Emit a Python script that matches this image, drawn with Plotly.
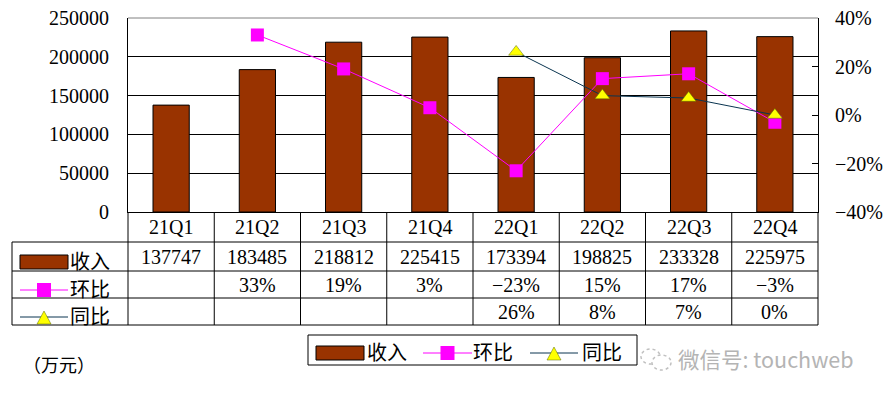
import plotly.graph_objects as go

categories = ["21Q1", "21Q2", "21Q3", "21Q4", "22Q1", "22Q2", "22Q3", "22Q4"]
revenue = [137747, 183485, 218812, 225415, 173394, 198825, 233328, 225975]
qoq = [None, 33, 19, 3, -23, 15, 17, -3]      # 环比 (%)
yoy = [None, None, None, None, 26, 8, 7, 0]   # 同比 (%)
left_ticks = [0, 50000, 100000, 150000, 200000, 250000]
right_ticks = [-40, -20, 0, 20, 40]

W, H = 885, 398
L, R, T, B = 128, 818, 18, 212
SERIF = "Liberation Serif, Noto Sans CJK SC, serif"
CJK = "Noto Sans CJK SC, sans-serif"
BROWN = "#993300"
MAG = "#FF00FF"
NAVY = "#0a3550"
YEL = "#FFFF00"


def px(x):
    return (x - L) / (R - L)


def py(y):
    return (B - y) / (B - T)


fig = go.Figure()
fig.add_trace(go.Bar(x=categories, y=revenue, width=0.42, marker=dict(color=BROWN, line=dict(color="black", width=1)),
                     name="收入", showlegend=False))
fig.add_trace(go.Scatter(x=categories, y=qoq, yaxis="y2", mode="lines+markers", name="环比", showlegend=False,
                         line=dict(color=MAG, width=1),
                         marker=dict(symbol="square", size=13, color=MAG), connectgaps=False))
fig.add_trace(go.Scatter(x=categories, y=yoy, yaxis="y2", mode="lines+markers", name="同比", showlegend=False,
                         line=dict(color=NAVY, width=1),
                         marker=dict(symbol="triangle-up", size=13, color=YEL, line=dict(color="#556600", width=0.5))))

shapes = []
ann = []
# top border grey
shapes.append(dict(type="line", xref="paper", yref="paper", x0=0, x1=1, y0=1, y1=1,
                   line=dict(color="#808080", width=1), layer="above"))

# data table
n = len(categories)
row_y = [242, 271, 298, 325]
for k in range(n + 1):
    xx = px(L + (R - L) * k / n)
    shapes.append(dict(type="line", xref="paper", yref="paper", x0=xx, x1=xx, y0=py(B), y1=py(325),
                       line=dict(color="black", width=1)))
shapes.append(dict(type="line", xref="paper", yref="paper", x0=px(12), x1=px(12), y0=py(242), y1=py(325),
                   line=dict(color="black", width=1)))
for yy in row_y:
    shapes.append(dict(type="line", xref="paper", yref="paper", x0=px(12), x1=1, y0=py(yy), y1=py(yy),
                       line=dict(color="black", width=1)))


def text(x, y, s, font, xref="paper", xanchor="center"):
    ann.append(dict(x=x, xref=xref, y=y, yref="paper", text=s, showarrow=False, xanchor=xanchor,
                    yanchor="middle", font=font))


NUMF = dict(family=SERIF, size=20, color="black")
row_centers = [227, 257, 285, 312]
for i, c in enumerate(categories):
    text(c, py(row_centers[0]), c, NUMF, xref="x")
    text(c, py(row_centers[1]), str(revenue[i]), NUMF, xref="x")
    if qoq[i] is not None:
        text(c, py(row_centers[2]), f"{qoq[i]}%".replace("-", "−"), NUMF, xref="x")
    if yoy[i] is not None:
        text(c, py(row_centers[3]), f"{yoy[i]}%", NUMF, xref="x")


def legend_item(kind, x0, x1, yc, label, tx):
    if kind == "bar":
        shapes.append(dict(type="rect", xref="paper", yref="paper", x0=px(x0), x1=px(x1), y0=py(yc + 7),
                           y1=py(yc - 7), fillcolor=BROWN, line=dict(color="black", width=1)))
    else:
        color = MAG if kind == "sq" else NAVY
        shapes.append(dict(type="line", xref="paper", yref="paper", x0=px(x0), x1=px(x1), y0=py(yc), y1=py(yc),
                           line=dict(color=color, width=1)))
        cx = (x0 + x1) / 2
        if kind == "sq":
            shapes.append(dict(type="rect", xref="paper", yref="paper", x0=px(cx - 7), x1=px(cx + 7),
                               y0=py(yc + 7), y1=py(yc - 7), fillcolor=MAG, line=dict(width=0)))
        else:
            shapes.append(dict(type="path", xref="paper", yref="paper",
                               path=f"M {px(cx-7)},{py(yc+7)} L {px(cx+7)},{py(yc+7)} L {px(cx)},{py(yc-6)} Z",
                               fillcolor=YEL, line=dict(color="#556600", width=0.5)))
    text(px(tx), py(yc - 2), label, dict(family=CJK, size=20, color="black"), xanchor="left")


# row labels in table
legend_item("bar", 20, 68, 262, "收入", 68)
legend_item("sq", 20, 68, 290, "环比", 68)
legend_item("tri", 20, 68, 317, "同比", 68)

# legend box
shapes.append(dict(type="rect", xref="paper", yref="paper", x0=px(308), x1=px(637), y0=py(365), y1=py(335),
                   line=dict(color="black", width=1), fillcolor="white", layer="below"))
legend_item("bar", 316, 364, 353, "收入", 365)
legend_item("sq", 423, 472, 353, "环比", 471)
legend_item("tri", 530, 578, 353, "同比", 580)

# unit label
text(px(21), py(364), "（万元）", dict(family=CJK, size=18, color="black"), xanchor="left")

# watermark
text(px(676), py(358), "微信号: touchweb", dict(family=CJK, size=21.5, color="#b4b4b4"), xanchor="left")
shapes.append(dict(type="circle", xref="paper", yref="paper", x0=px(641), x1=px(660), y0=py(364), y1=py(349),
                   line=dict(color="#c0c0c0", width=1.5, dash="dot")))
shapes.append(dict(type="circle", xref="paper", yref="paper", x0=px(652), x1=px(671), y0=py(370), y1=py(355),
                   line=dict(color="#c0c0c0", width=1.5, dash="dot"), fillcolor="white"))

fig.update_layout(
    width=W, height=H,
    margin=dict(l=L, r=W - R, t=T, b=H - B, autoexpand=False),
    paper_bgcolor="white", plot_bgcolor="white",
    xaxis=dict(showticklabels=False, showgrid=False, zeroline=False, showline=True, linecolor="black",
               ticks="", fixedrange=True, automargin=False, range=[-0.5, len(categories) - 0.5]),
    yaxis=dict(range=[0, 250000], tickvals=left_ticks, ticktext=[str(v) for v in left_ticks],
               showgrid=True, gridcolor="black", gridwidth=1, zeroline=False, showline=True, linecolor="black",
               tickfont=dict(family=SERIF, size=20, color="black"), ticks="", ticklabelstandoff=14,
               automargin=False),
    yaxis2=dict(range=[-40, 40], overlaying="y", side="right", tickvals=right_ticks,
                ticktext=[f"{v}%".replace("-", "−") for v in right_ticks], showgrid=False, zeroline=False,
                showline=True, linecolor="black", ticks="inside", ticklen=6, tickcolor="black",
                tickfont=dict(family=SERIF, size=20, color="black"), ticklabelstandoff=12,
                automargin=False),
    shapes=shapes,
    annotations=ann,
    showlegend=False,
)

fig.write_html("out.html", config={"displayModeBar": False},
               post_script="document.body.style.margin='0';document.body.style.overflow='hidden';")
